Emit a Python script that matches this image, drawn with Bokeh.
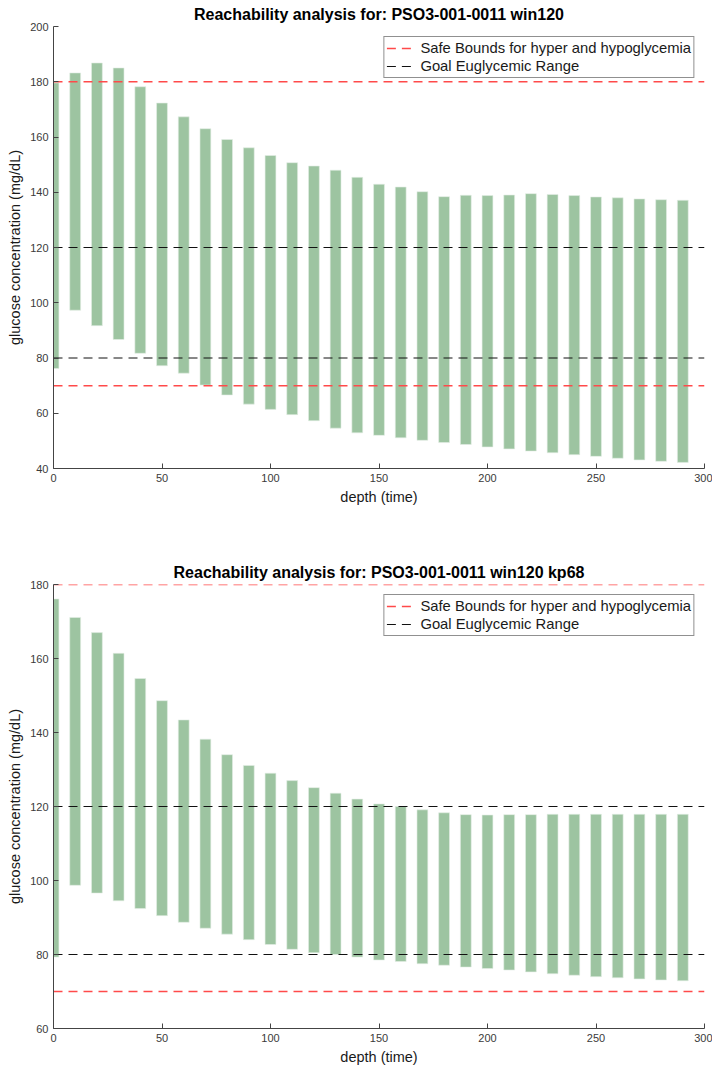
from bokeh.plotting import figure
from bokeh.layouts import column
from bokeh.models import Legend, LegendItem, FixedTicker
from bokeh.embed import file_html
from bokeh.resources import INLINE

# ---------------- data ----------------
depth = [0, 10, 20, 30, 40, 50, 60, 70, 80, 90, 100, 110, 120, 130, 140,
         150, 160, 170, 180, 190, 200, 210, 220, 230, 240, 250, 260, 270, 280, 290]

win120_upper = [179.6, 183.2, 186.8, 185.0, 178.2, 172.3, 167.3, 163.0, 159.1, 156.1,
                153.3, 150.7, 149.5, 148.0, 145.4, 142.9, 141.9, 140.2, 138.4, 138.9,
                138.8, 139.0, 139.5, 139.2, 138.8, 138.3, 138.0, 137.6, 137.3, 137.1]
win120_lower = [76.2, 97.3, 91.7, 86.7, 81.7, 77.2, 74.5, 70.2, 66.6, 63.3,
                61.4, 59.5, 57.3, 54.6, 52.9, 52.0, 51.1, 50.2, 49.4, 48.7,
                47.8, 47.1, 46.3, 45.7, 45.0, 44.4, 43.7, 43.1, 42.6, 42.2]

kp68_upper = [176.1, 171.1, 167.0, 161.4, 154.6, 148.6, 143.4, 138.2, 134.0, 131.1,
              129.0, 127.0, 125.1, 123.6, 122.0, 120.7, 120.0, 119.1, 118.3, 117.8,
              117.7, 117.8, 117.8, 117.9, 117.9, 117.9, 117.9, 117.9, 117.9, 117.9]
kp68_lower = [79.3, 98.7, 96.6, 94.5, 92.4, 90.5, 88.7, 87.1, 85.5, 84.0,
              82.7, 81.4, 80.5, 80.0, 79.3, 78.5, 78.1, 77.5, 77.1, 76.6,
              76.2, 75.8, 75.3, 74.8, 74.4, 74.0, 73.7, 73.4, 73.1, 72.9]

safe_bounds = [180, 70]
goal_range = [120, 80]
x_span = [0, 300]
x_ticks = [0, 50, 100, 150, 200, 250, 300]
top_y_ticks = [40, 60, 80, 100, 120, 140, 160, 180, 200]
bot_y_ticks = [60, 80, 100, 120, 140, 160, 180]

titles = ["Reachability analysis for: PSO3-001-0011 win120",
          "Reachability analysis for: PSO3-001-0011 win120 kp68"]
legend_labels = ["Safe Bounds for hyper and hypoglycemia", "Goal Euglycemic Range"]

FONT = "Liberation Sans"
BAR = "#9dc4a1"
RED = "#ff4a4a"
BLK = "#111111"


def make_panel(title, upper, lower, y_range, y_ticks, height, border_top,
               border_bottom, title_standoff):
    p = figure(width=712, height=height, x_range=(0, 300), y_range=y_range,
               output_backend="svg", toolbar_location=None,
               min_border_left=53, min_border_right=8,
               min_border_top=border_top, min_border_bottom=border_bottom)
    p.title.text = title
    p.title.text_font = FONT
    p.title.text_font_size = "16px"
    p.title.text_font_style = "bold"
    p.title.text_color = "#000000"
    p.title.align = "center"
    p.title.standoff = title_standoff
    p.outline_line_color = None
    p.xgrid.visible = False
    p.ygrid.visible = False

    p.vbar(x=depth, bottom=lower, top=upper, width=5,
           fill_color=BAR, line_color="#e4efe5", line_width=0.6)

    reds = []
    for b in safe_bounds:
        reds.append(p.line(x=x_span, y=[b, b], line_color=RED, line_width=1.5,
                           line_dash="9 6"))
    blks = []
    for b in goal_range:
        blks.append(p.line(x=x_span, y=[b, b], line_color=BLK, line_width=1.0,
                           line_dash="9 6"))

    legend = Legend(items=[LegendItem(label=legend_labels[0], renderers=[reds[0]]),
                           LegendItem(label=legend_labels[1], renderers=[blks[0]])],
                    location="top_right")
    legend.border_line_color = "#222222"
    legend.border_line_width = 1
    legend.background_fill_alpha = 1.0
    legend.label_text_font = FONT
    legend.label_text_font_size = "14.8px"
    legend.label_text_color = "#1a1a1a"
    legend.glyph_width = 27
    legend.glyph_height = 18
    legend.label_height = 18
    legend.label_standoff = 7
    legend.spacing = 0
    legend.padding = 2
    legend.margin = 10
    p.add_layout(legend)

    for ax in (p.xaxis[0], p.yaxis[0]):
        ax.axis_line_color = "#444444"
        ax.major_tick_line_color = "#444444"
        ax.major_tick_in = 5
        ax.major_tick_out = 0
        ax.minor_tick_line_color = None
        ax.major_label_text_font = FONT
        ax.major_label_text_font_size = "11px"
        ax.major_label_text_color = "#3a3a3a"
        ax.axis_label_text_font = FONT
        ax.axis_label_text_font_size = "14.5px"
        ax.axis_label_text_font_style = "normal"
        ax.axis_label_text_color = "#1a1a1a"
        ax.major_label_standoff = 5
        ax.axis_label_standoff = 4
    p.xaxis[0].ticker = FixedTicker(ticks=x_ticks)
    p.yaxis[0].ticker = FixedTicker(ticks=y_ticks)
    p.xaxis[0].axis_label = "depth (time)"
    p.yaxis[0].axis_label = "glucose concentration (mg/dL)"
    return p


p1 = make_panel(titles[0], win120_upper, win120_lower, (40, 200), top_y_ticks,
                540, 26, 72, 7)
p2 = make_panel(titles[1], kp68_upper, kp68_lower, (60, 180), bot_y_ticks,
                528, 44, 40, 8)

layout = column(p1, p2, spacing=0)
open("out.html", "w").write(file_html(layout, INLINE))
